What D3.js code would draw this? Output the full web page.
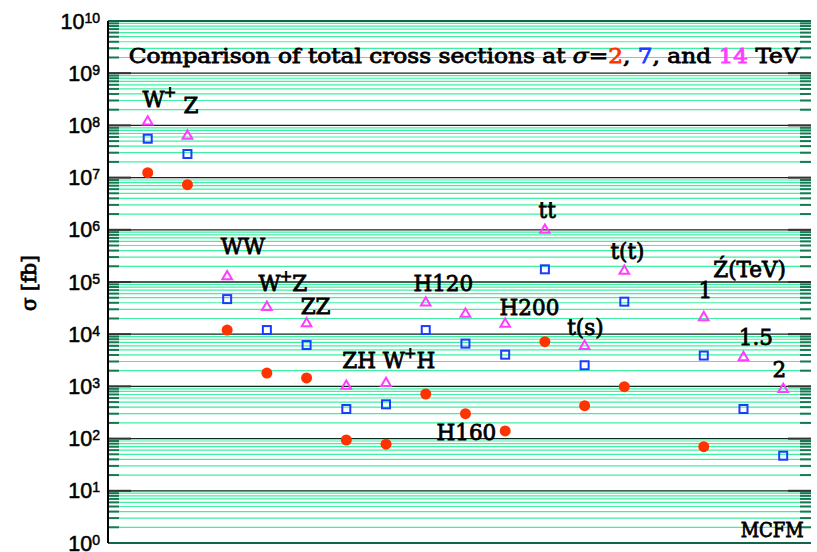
<!DOCTYPE html>
<html>
<head>
<meta charset="utf-8">
<script src="https://cdn.jsdelivr.net/npm/d3@7"></script>
<style>
  body { margin: 0; background: #fff; }
  svg { display: block; }
  .lab { font-family: "DejaVu Serif", serif; fill: #000; stroke: #000; stroke-width: 0.8; }
</style>
</head>
<body>
<svg width="817" height="552"></svg>
<script>
// process slots along x (slot 13 is left empty in the original plot)
const processes = ['W+', 'Z', 'WW', 'W+Z', 'ZZ', 'ZH', 'W+H', 'H120', 'H160', 'H200',
  'tt', 't(s)', 't(t)', "Z'1", "Z'1.5", "Z'2"];
const slots = [0, 1, 2, 3, 4, 5, 6, 7, 8, 9, 10, 11, 12, 14, 15, 16];

// total cross sections in fb
const sigma2 = [1.24e7, 7.3e6, 1.2e4, 1.8e3, 1.45e3, 94, 78, 715, 300, 140,
  7.2e3, 427, 988, 70, null, null];
const sigma7 = [5.56e7, 2.83e7, 4.7e4, 1.2e4, 6.2e3, 369, 454, 1.2e4, 6.6e3, 4.05e3,
  1.75e5, 2.54e3, 4.2e4, 3.9e3, 369, 47];
const sigma14 = [1.17e8, 6.3e7, 1.27e5, 3.3e4, 1.6e4, 1.02e3, 1.15e3, 4.0e4, 2.44e4, 1.57e4,
  9.9e5, 5.9e3, 1.62e5, 2.1e4, 3.6e3, 880];

const decades = d3.range(0, 11);

const svg = d3.select('svg');
const pLeft = 108, pRight = 811, pTop = 21, pBottom = 543;

const x = d3.scaleLinear().domain([-1, 16.7]).range([pLeft, pRight]);
const y = d3.scaleLog().domain([1, 1e10]).range([pBottom, pTop]);

const c2 = '#ff3300', c7 = '#1a3cff', c14 = '#ff3cff';

// grid: a line at every minor tick, darker at the decades
const minors = [];
decades.slice(0, -1).forEach(e => {
  for (let m = 2; m <= 9; m++) minors.push(m * Math.pow(10, e));
});

const grid = svg.append('g');
grid.selectAll('line.minor')
  .data(minors)
  .join('line')
    .attr('class', 'minor')
    .attr('x1', pLeft).attr('x2', pRight)
    .attr('y1', d => y(d)).attr('y2', d => y(d))
    .attr('stroke', '#3ef0a2')
    .attr('stroke-width', 1.2);

grid.selectAll('line.major')
  .data(decades.slice(1, -1))
  .join('line')
    .attr('class', 'major')
    .attr('x1', pLeft).attr('x2', pRight)
    .attr('y1', d => y(Math.pow(10, d))).attr('y2', d => y(Math.pow(10, d)))
    .attr('stroke', '#0b2b1c')
    .attr('stroke-width', 1.3);

// frame: top and bottom dark green, left black
svg.append('line').attr('x1', pLeft).attr('x2', pRight).attr('y1', pTop).attr('y2', pTop)
  .attr('stroke', '#11664a').attr('stroke-width', 2);
svg.append('line').attr('x1', pLeft).attr('x2', pRight).attr('y1', pBottom).attr('y2', pBottom)
  .attr('stroke', '#11664a').attr('stroke-width', 2);

// axis ticks on left and right
const ticks = svg.append('g');
[[pLeft, 1], [pRight, -1]].forEach(([x0, dir]) => {
  ticks.append('g').selectAll('line')
    .data(minors)
    .join('line')
      .attr('x1', x0).attr('x2', x0 + dir * 11)
      .attr('y1', d => y(d)).attr('y2', d => y(d))
      .attr('stroke', '#137a52').attr('stroke-width', 2);
  ticks.append('g').selectAll('line')
    .data(decades.slice(1, -1))
    .join('line')
      .attr('x1', x0).attr('x2', x0 + dir * 23)
      .attr('y1', d => y(Math.pow(10, d))).attr('y2', d => y(Math.pow(10, d)))
      .attr('stroke', '#333').attr('stroke-width', 2);
});
svg.append('line').attr('x1', pLeft).attr('x2', pLeft).attr('y1', pTop).attr('y2', pBottom)
  .attr('stroke', '#000').attr('stroke-width', 2);

// y tick labels 10^n
const yl = svg.append('g')
  .attr('font-family', '"Liberation Sans", Arial, sans-serif')
  .attr('fill', '#000')
  .attr('stroke', '#000')
  .attr('stroke-width', 0.5);
yl.selectAll('text')
  .data(decades)
  .join('text')
    .attr('x', 100)
    .attr('y', d => y(Math.pow(10, d)) + 7.5)
    .attr('text-anchor', 'end')
    .attr('font-size', 21.5)
    .each(function (d) {
      const t = d3.select(this);
      t.append('tspan').text('10');
      t.append('tspan').attr('font-size', 14).attr('dy', -6).text(d);
    });

// y axis title
svg.append('text')
  .attr('class', 'lab')
  .attr('transform', 'translate(36,283) rotate(-90)')
  .attr('text-anchor', 'middle')
  .attr('font-size', 20)
  .attr('stroke-width', 0.3)
  .text('σ [fb]');

// markers
const pts = slots.map((s, i) => ({ s, v2: sigma2[i], v7: sigma7[i], v14: sigma14[i] }));
const marks = svg.append('g');

marks.selectAll('circle')
  .data(pts.filter(d => d.v2 != null))
  .join('circle')
    .attr('cx', d => x(d.s))
    .attr('cy', d => y(d.v2))
    .attr('r', 5.5)
    .attr('fill', c2);

marks.selectAll('rect')
  .data(pts.filter(d => d.v7 != null))
  .join('rect')
    .attr('x', d => x(d.s) - 4)
    .attr('y', d => y(d.v7) - 4)
    .attr('width', 8).attr('height', 8)
    .attr('fill', 'none')
    .attr('stroke', c7).attr('stroke-width', 2);

const tri = d3.symbol().type(d3.symbolTriangle).size(40);
marks.selectAll('path')
  .data(pts.filter(d => d.v14 != null))
  .join('path')
    .attr('d', tri)
    .attr('transform', d => `translate(${x(d.s)},${y(d.v14)})`)
    .attr('fill', 'none')
    .attr('stroke', c14).attr('stroke-width', 2);

// process labels, placed in data units: [slot, log10 sigma]
const labels = [
  { parts: [['W'], ['+', 'sup']], at: [-0.13, 8.36] },
  { parts: [['Z']], at: [0.9, 8.24] },
  { parts: [['WW']], at: [1.84, 5.54] },
  { parts: [['W'], ['+', 'sup'], ['Z', 'back']], at: [2.79, 4.83] },
  { parts: [['ZZ']], at: [3.85, 4.39] },
  { parts: [['ZH W'], ['+', 'sup'], ['H', 'back']], at: [4.9, 3.35] },
  { parts: [['H120']], at: [6.69, 4.83] },
  { parts: [['H160']], at: [7.27, 1.97] },
  { parts: [['H200']], at: [8.86, 4.37] },
  { parts: [['tt']], at: [9.84, 6.23] },
  { parts: [['t(s)']], at: [10.56, 3.99] },
  { parts: [['t(t)']], at: [11.65, 5.45] },
  { parts: [['\u0179(TeV)']], at: [14.24, 5.09] },
  { parts: [['1']], at: [13.87, 4.69] },
  { parts: [['1.5']], at: [14.88, 3.79] },
  { parts: [['2']], at: [15.73, 3.18] }
];

const lab = svg.append('g');
labels.forEach(l => {
  const t = lab.append('text')
    .attr('class', 'lab')
    .attr('x', x(l.at[0]))
    .attr('y', y(Math.pow(10, l.at[1])))
    .attr('font-size', 21.5);
  l.parts.forEach(([txt, kind]) => {
    const sp = t.append('tspan').text(txt);
    if (kind === 'sup') sp.attr('font-size', 15).attr('dy', -10).attr('dx', -1);
    if (kind === 'back') sp.attr('dy', 10);
  });
});

// title
const title = svg.append('text')
  .attr('class', 'lab')
  .attr('x', x(-0.48))
  .attr('y', y(Math.pow(10, 9.195)))
  .attr('font-size', 19.5)
  .attr('textLength', 671)
  .attr('lengthAdjust', 'spacingAndGlyphs');
title.append('tspan').text('Comparison of total cross sections at ');
title.append('tspan').attr('font-style', 'italic').text('σ');
title.append('tspan').text('=');
title.append('tspan').attr('fill', c2).attr('stroke', c2).text('2');
title.append('tspan').text(', ');
title.append('tspan').attr('fill', c7).attr('stroke', c7).text('7');
title.append('tspan').text(', and ');
title.append('tspan').attr('fill', c14).attr('stroke', c14).text('14');
title.append('tspan').text(' TeV');

svg.append('text')
  .attr('class', 'lab')
  .attr('x', x(14.93))
  .attr('y', y(Math.pow(10, 0.115)))
  .attr('font-size', 20)
  .attr('textLength', 63)
  .attr('lengthAdjust', 'spacingAndGlyphs')
  .text('MCFM');
</script>
</body>
</html>
